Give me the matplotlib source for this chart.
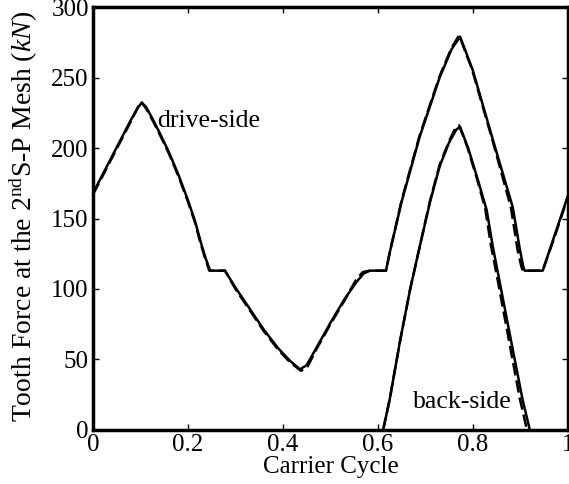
import matplotlib
matplotlib.use("Agg")
import matplotlib.pyplot as plt

plt.rcParams['font.family'] = ['Liberation Serif', 'DejaVu Serif']
plt.rcParams['mathtext.fontset'] = 'custom'
plt.rcParams['mathtext.rm'] = 'Liberation Serif'
plt.rcParams['mathtext.it'] = 'Liberation Serif:italic'

# drive-side, solid
drive_x = [0.000, 0.020, 0.040, 0.060, 0.080, 0.095, 0.103, 0.112, 0.125, 0.140,
           0.160, 0.180, 0.200, 0.215, 0.228, 0.238, 0.247, 0.278, 0.300, 0.330,
           0.360, 0.390, 0.415, 0.436, 0.450, 0.470, 0.500, 0.530, 0.555, 0.570,
           0.583, 0.617, 0.625, 0.650, 0.688, 0.730, 0.755, 0.773, 0.800, 0.842,
           0.884, 0.899, 0.906, 0.909, 0.947, 0.970, 1.000]
drive_y = [168, 181, 194, 207, 220, 229, 232, 229, 221, 211,
           197, 181, 163, 148, 132, 121, 113, 113, 101, 86,
           71, 58, 49, 43, 46, 58, 76, 93, 105, 111,
           113, 113, 126, 162, 208, 250, 270, 279, 255, 206,
           158, 128, 116, 113, 113, 136, 166]

# drive-side, dashed
drive_x2 = [0.000, 0.020, 0.040, 0.060, 0.080, 0.095, 0.101, 0.112, 0.125, 0.140,
            0.160, 0.180, 0.200, 0.215, 0.226, 0.236, 0.245, 0.278, 0.300, 0.330,
            0.360, 0.390, 0.415, 0.438, 0.452, 0.470, 0.500, 0.530, 0.553, 0.568,
            0.583, 0.617, 0.625, 0.650, 0.688, 0.730, 0.755, 0.771, 0.798, 0.840,
            0.880, 0.894, 0.902, 0.905, 0.947, 0.970, 1.000]
drive_y2 = [167, 180, 193, 206, 219, 229, 233, 228, 220, 210,
            196, 180, 162, 147, 133, 122, 113, 113, 100, 85,
            70, 57, 48, 42, 45, 57, 75, 92, 106, 112,
            113, 113, 126, 163, 209, 251, 271, 280, 256, 207,
            158, 128, 116, 113, 113, 135, 165]

# back-side, solid
back_x = [0.611, 0.625, 0.646, 0.668, 0.688, 0.710, 0.730, 0.750, 0.765, 0.773,
          0.790, 0.810, 0.829, 0.842, 0.857, 0.884, 0.905, 0.920]
back_y = [0, 22, 62, 100, 130, 162, 187, 204, 213, 215,
          200, 178, 156, 130, 104, 57, 21, 0]

# back-side, dashed
back_x2 = [0.611, 0.625, 0.646, 0.668, 0.688, 0.710, 0.730, 0.750, 0.763, 0.771,
           0.788, 0.808, 0.826, 0.838, 0.853, 0.879, 0.899, 0.914]
back_y2 = [0, 22, 62, 100, 130, 163, 188, 205, 214, 216,
           201, 179, 157, 131, 105, 58, 22, 0]

xticks = [0, 0.2, 0.4, 0.6, 0.8, 1]
xticklabels = ['0', '0.2', '0.4', '0.6', '0.8', '1']
yticks = [0, 50, 100, 150, 200, 250, 300]

fig = plt.figure(figsize=(5.69, 4.84), dpi=100)
ax = fig.add_axes([0.1634, 0.1116, 0.8346, 0.8739])

ax.plot(drive_x2, drive_y2, color='k', lw=1.8, ls=(0, (5, 2)))
ax.plot(drive_x, drive_y, color='k', lw=1.8)
ax.plot(back_x2, back_y2, color='k', lw=1.8, ls=(0, (5, 2)))
ax.plot(back_x, back_y, color='k', lw=1.8)

ax.text(0.135, 219, 'drive-side', fontsize=18.5, va='center', ha='left')
ax.text(0.674, 20, 'back-side', fontsize=18.5, va='center', ha='left')

ax.set_xlim(0, 1)
ax.set_ylim(0, 300)
ax.set_xticks(xticks)
ax.set_xticklabels(xticklabels)
ax.set_yticks(yticks)
ax.tick_params(direction='in', length=4, width=1, top=True, right=True,
               labelsize=18, pad=3)
for s in ax.spines.values():
    s.set_linewidth(2.5)

ax.set_xlabel('Carrier Cycle', fontsize=18, labelpad=0)
ax.set_ylabel(r'Tooth Force at the 2$^{\rm nd}$S-P Mesh ($kN$)', fontsize=20, labelpad=0)
ax.yaxis.set_label_coords(-0.112, 0.505)

fig.savefig('out.png', dpi=100)
